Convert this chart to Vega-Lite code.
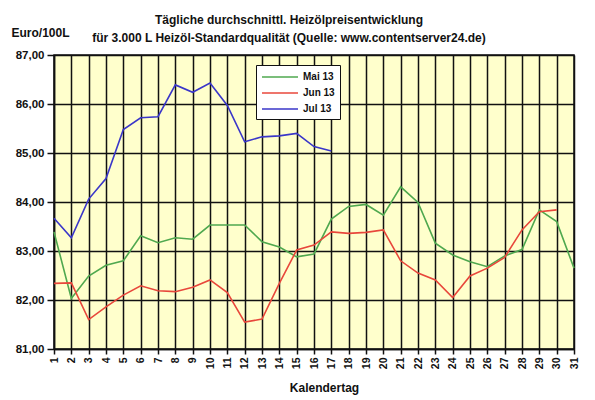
{
  "$schema": "https://vega.github.io/schema/vega-lite/v6.json",
  "autosize": "none",
  "padding": {"left": 54, "top": 55, "right": 21, "bottom": 51},
  "width": 520,
  "height": 294,
  "background": "white",
  "title": {
    "text": ["Tägliche durchschnittl. Heizölpreisentwicklung", "für 3.000 L Heizöl-Standardqualität (Quelle: www.contentserver24.de)"],
    "font": "Liberation Sans",
    "fontSize": 12,
    "fontWeight": "bold",
    "color": "#111111",
    "lineHeight": 18,
    "anchor": "middle",
    "dx": -25,
    "offset": -19
  },
  "data": {
    "values": [
      {"tag": 1, "monat": "Mai 13", "preis": 83.39},
      {"tag": 2, "monat": "Mai 13", "preis": 82.03},
      {"tag": 3, "monat": "Mai 13", "preis": 82.49},
      {"tag": 4, "monat": "Mai 13", "preis": 82.71},
      {"tag": 5, "monat": "Mai 13", "preis": 82.8},
      {"tag": 6, "monat": "Mai 13", "preis": 83.31},
      {"tag": 7, "monat": "Mai 13", "preis": 83.17},
      {"tag": 8, "monat": "Mai 13", "preis": 83.27},
      {"tag": 9, "monat": "Mai 13", "preis": 83.24},
      {"tag": 10, "monat": "Mai 13", "preis": 83.53},
      {"tag": 11, "monat": "Mai 13", "preis": 83.53},
      {"tag": 12, "monat": "Mai 13", "preis": 83.53},
      {"tag": 13, "monat": "Mai 13", "preis": 83.19},
      {"tag": 14, "monat": "Mai 13", "preis": 83.08},
      {"tag": 15, "monat": "Mai 13", "preis": 82.88},
      {"tag": 16, "monat": "Mai 13", "preis": 82.94},
      {"tag": 17, "monat": "Mai 13", "preis": 83.65},
      {"tag": 18, "monat": "Mai 13", "preis": 83.91},
      {"tag": 19, "monat": "Mai 13", "preis": 83.95},
      {"tag": 20, "monat": "Mai 13", "preis": 83.73},
      {"tag": 21, "monat": "Mai 13", "preis": 84.31},
      {"tag": 22, "monat": "Mai 13", "preis": 83.99},
      {"tag": 23, "monat": "Mai 13", "preis": 83.16},
      {"tag": 24, "monat": "Mai 13", "preis": 82.92},
      {"tag": 25, "monat": "Mai 13", "preis": 82.78},
      {"tag": 26, "monat": "Mai 13", "preis": 82.68},
      {"tag": 27, "monat": "Mai 13", "preis": 82.9},
      {"tag": 28, "monat": "Mai 13", "preis": 83.03},
      {"tag": 29, "monat": "Mai 13", "preis": 83.84},
      {"tag": 30, "monat": "Mai 13", "preis": 83.6},
      {"tag": 31, "monat": "Mai 13", "preis": 82.65},
      {"tag": 1, "monat": "Jun 13", "preis": 82.34},
      {"tag": 2, "monat": "Jun 13", "preis": 82.35},
      {"tag": 3, "monat": "Jun 13", "preis": 81.6},
      {"tag": 4, "monat": "Jun 13", "preis": 81.86},
      {"tag": 5, "monat": "Jun 13", "preis": 82.1},
      {"tag": 6, "monat": "Jun 13", "preis": 82.29},
      {"tag": 7, "monat": "Jun 13", "preis": 82.19},
      {"tag": 8, "monat": "Jun 13", "preis": 82.17},
      {"tag": 9, "monat": "Jun 13", "preis": 82.26},
      {"tag": 10, "monat": "Jun 13", "preis": 82.41},
      {"tag": 11, "monat": "Jun 13", "preis": 82.15},
      {"tag": 12, "monat": "Jun 13", "preis": 81.55},
      {"tag": 13, "monat": "Jun 13", "preis": 81.61},
      {"tag": 14, "monat": "Jun 13", "preis": 82.34},
      {"tag": 15, "monat": "Jun 13", "preis": 83.02},
      {"tag": 16, "monat": "Jun 13", "preis": 83.12},
      {"tag": 17, "monat": "Jun 13", "preis": 83.39},
      {"tag": 18, "monat": "Jun 13", "preis": 83.36},
      {"tag": 19, "monat": "Jun 13", "preis": 83.38},
      {"tag": 20, "monat": "Jun 13", "preis": 83.43},
      {"tag": 21, "monat": "Jun 13", "preis": 82.8},
      {"tag": 22, "monat": "Jun 13", "preis": 82.55},
      {"tag": 23, "monat": "Jun 13", "preis": 82.41},
      {"tag": 24, "monat": "Jun 13", "preis": 82.05},
      {"tag": 25, "monat": "Jun 13", "preis": 82.49},
      {"tag": 26, "monat": "Jun 13", "preis": 82.65},
      {"tag": 27, "monat": "Jun 13", "preis": 82.87},
      {"tag": 28, "monat": "Jun 13", "preis": 83.43},
      {"tag": 29, "monat": "Jun 13", "preis": 83.8},
      {"tag": 30, "monat": "Jun 13", "preis": 83.84},
      {"tag": 1, "monat": "Jul 13", "preis": 83.67},
      {"tag": 2, "monat": "Jul 13", "preis": 83.27},
      {"tag": 3, "monat": "Jul 13", "preis": 84.06},
      {"tag": 4, "monat": "Jul 13", "preis": 84.48},
      {"tag": 5, "monat": "Jul 13", "preis": 85.48},
      {"tag": 6, "monat": "Jul 13", "preis": 85.72},
      {"tag": 7, "monat": "Jul 13", "preis": 85.74},
      {"tag": 8, "monat": "Jul 13", "preis": 86.39},
      {"tag": 9, "monat": "Jul 13", "preis": 86.24},
      {"tag": 10, "monat": "Jul 13", "preis": 86.43},
      {"tag": 11, "monat": "Jul 13", "preis": 85.97},
      {"tag": 12, "monat": "Jul 13", "preis": 85.23},
      {"tag": 13, "monat": "Jul 13", "preis": 85.33},
      {"tag": 14, "monat": "Jul 13", "preis": 85.35},
      {"tag": 15, "monat": "Jul 13", "preis": 85.4},
      {"tag": 16, "monat": "Jul 13", "preis": 85.13},
      {"tag": 17, "monat": "Jul 13", "preis": 85.04}
    ]
  },
  "mark": {"type": "line", "strokeWidth": 1.6},
  "encoding": {
    "x": {
      "field": "tag",
      "type": "quantitative",
      "scale": {"domain": [1, 31], "nice": false, "zero": false},
      "axis": {
        "values": [1, 2, 3, 4, 5, 6, 7, 8, 9, 10, 11, 12, 13, 14, 15, 16, 17, 18, 19, 20, 21, 22, 23, 24, 25, 26, 27, 28, 29, 30, 31],
        "title": "Kalendertag",
        "titleX": 270,
        "titleY": 38,
        "titleBaseline": "middle",
        "labelAngle": -90,
        "labelAlign": "right",
        "labelBaseline": "middle",
        "labelPadding": 3,
        "tickSize": 5,
        "labelFontSize": 10.5
      }
    },
    "y": {
      "field": "preis",
      "type": "quantitative",
      "scale": {"domain": [81, 87], "nice": false, "zero": false},
      "axis": {
        "values": [81, 82, 83, 84, 85, 86, 87],
        "labelExpr": "replace(format(datum.value, '.2f'), '.', ',')",
        "title": "Euro/100L",
        "titleAngle": 0,
        "titleAlign": "left",
        "titleBaseline": "middle",
        "titleX": -43,
        "titleY": -23,
        "tickSize": 7,
        "labelPadding": 3,
        "labelFontSize": 11.5
      }
    },
    "color": {
      "field": "monat",
      "type": "nominal",
      "sort": ["Mai 13", "Jun 13", "Jul 13"],
      "scale": {"domain": ["Mai 13", "Jun 13", "Jul 13"], "range": ["#4fa84f", "#e8473b", "#3a36c9"]},
      "legend": {
        "title": null,
        "orient": "none",
        "legendX": 202,
        "legendY": 10,
        "symbolType": "M-1,0H5",
        "symbolSize": 144,
        "symbolStrokeWidth": 1.6,
        "fillColor": "white",
        "strokeColor": "#111111",
        "padding": 5,
        "rowPadding": 4,
        "labelOffset": 28,
        "labelFontSize": 10,
        "labelFontWeight": "bold",
        "labelFont": "Liberation Sans",
        "labelColor": "#111111"
      }
    }
  },
  "config": {
    "font": "Liberation Sans",
    "view": {"fill": "#ffffcc", "stroke": "#111111", "strokeWidth": 1.5},
    "axis": {
      "grid": true,
      "gridColor": "#111111",
      "gridWidth": 1.5,
      "gridOpacity": 1,
      "domainColor": "#111111",
      "domainWidth": 1.5,
      "tickColor": "#111111",
      "tickWidth": 1.5,
      "labelColor": "#111111",
      "labelFont": "Liberation Sans",
      "labelFontWeight": "bold",
      "titleColor": "#111111",
      "titleFont": "Liberation Sans",
      "titleFontWeight": "bold",
      "titleFontSize": 12
    }
  }
}
